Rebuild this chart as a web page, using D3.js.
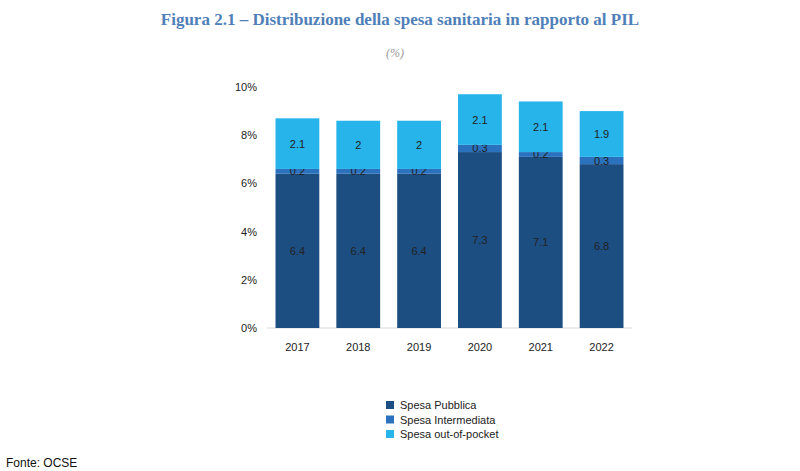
<!DOCTYPE html><html><head><meta charset="utf-8"><script src="https://cdn.jsdelivr.net/npm/d3@7"></script>
<style>body{margin:0;background:#fff}</style></head><body><svg id="c" width="800" height="471"></svg>
<script>
const years=["2017","2018","2019","2020","2021","2022"];
const pubblica=[6.4,6.4,6.4,7.3,7.1,6.8];
const intermedia=[0.2,0.2,0.2,0.3,0.2,0.3];
const oop=[2.1,2,2,2.1,2.1,1.9];
const yTicks=[0,2,4,6,8,10];
const seriesNames=["Spesa Pubblica","Spesa Intermediata","Spesa out-of-pocket"];
const colors=["#1c4e82","#2a72bd","#27b4ea"];
const svg=d3.select("#c");
const x=d3.scaleBand().domain(years).range([267,632]).paddingInner(0.28).paddingOuter(0.14);
const y=d3.scaleLinear().domain([0,10]).range([328,87]);
svg.append("text").attr("x",400).attr("y",25).attr("text-anchor","middle").attr("font-family","Liberation Serif").attr("font-weight","bold").attr("font-size",17).attr("fill","#4f7fb8").text("Figura 2.1 – Distribuzione della spesa sanitaria in rapporto al PIL");
svg.append("text").attr("x",395).attr("y",57).attr("text-anchor","middle").attr("font-family","Liberation Serif").attr("font-style","italic").attr("font-size",12).attr("fill","#999").text("(%)");
const g=svg.append("g").attr("font-family","Liberation Sans");
g.append("g").attr("transform","translate(260,0)").call(d3.axisLeft(y).tickValues(yTicks).tickFormat(d=>d+"%").tickSize(0)).call(a=>a.select(".domain").remove()).selectAll("text").attr("font-size",11).attr("fill","#222").attr("font-family","Liberation Sans");
g.append("line").attr("x1",267).attr("x2",632).attr("y1",y(0)).attr("y2",y(0)).attr("stroke","#d9d9d9");
const data=years.map((yr,i)=>({yr,v:[pubblica[i],intermedia[i],oop[i]]}));
data.forEach(d=>{let base=0;d.v.forEach((v,k)=>{
 g.append("rect").attr("x",x(d.yr)).attr("width",x.bandwidth()).attr("y",y(base+v)).attr("height",y(base)-y(base+v)).attr("fill",colors[k]);
 g.append("text").attr("x",x(d.yr)+x.bandwidth()/2).attr("y",y(base+v/2)+4).attr("text-anchor","middle").attr("font-size",11).attr("fill","#222").text(v);
 base+=v;});});
g.append("g").attr("transform",`translate(0,${y(0)})`).call(d3.axisBottom(x).tickSize(0).tickPadding(15)).call(a=>a.select(".domain").remove()).selectAll("text").attr("font-size",11).attr("fill","#222").attr("font-family","Liberation Sans");
seriesNames.forEach((n,k)=>{const ly=405+k*14.5;
 g.append("rect").attr("x",386).attr("y",ly-4).attr("width",8).attr("height",8).attr("fill",colors[k]);
 g.append("text").attr("x",400).attr("y",ly+4).attr("font-size",11).attr("fill","#222").text(n);});
g.append("text").attr("x",6).attr("y",467).attr("font-size",12).attr("fill","#111").text("Fonte: OCSE");
</script></body></html>
